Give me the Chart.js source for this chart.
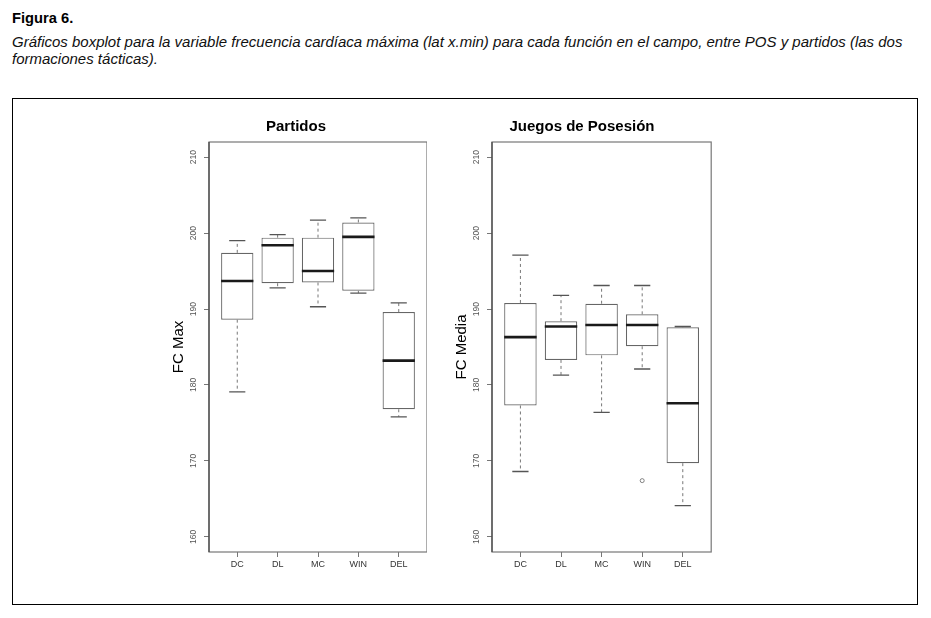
<!DOCTYPE html>
<html>
<head>
<meta charset="utf-8">
<script src="https://cdn.jsdelivr.net/npm/chart.js@4.4.0/dist/chart.umd.min.js"></script>
<style>
  body { margin: 0; background: #fff; font-family: "Liberation Sans", Arial, sans-serif; }
  #head { position: absolute; left: 12px; top: 10px; width: 915px; }
  #head b { font-size: 14.7px; display: block; line-height: 17px; color: #000; }
  #head i { font-size: 15px; display: block; line-height: 17px; margin-top: 6px; color: #111; }
  #frame { position: absolute; left: 12px; top: 98px; width: 904px; height: 505px; border: 1px solid #000; }
  .box { position: absolute; top: 118px; height: 464px; width: 262px; }
</style>
</head>
<body>
<div id="head">
  <b>Figura 6.</b>
  <i>Gráficos boxplot para la variable frecuencia cardíaca máxima (lat x.min) para cada función en el campo, entre POS y partidos (las dos formaciones tácticas).</i>
</div>
<div id="frame"></div>
<div class="box" style="left:165px"><canvas id="chartA"></canvas></div>
<div class="box" style="left:448px;width:268px"><canvas id="chartB"></canvas></div>
<script>
const categories = ["DC", "DL", "MC", "WIN", "DEL"];
const yTicks = [160, 170, 180, 190, 200, 210];

// Partidos
const partMin = [179.1, 192.8, 190.3, 192.1, 175.8];
const partQ1 = [188.6, 193.4, 193.5, 192.4, 176.8];
const partMed = [193.7, 198.4, 195.0, 199.5, 183.2];
const partQ3 = [197.4, 199.4, 199.4, 201.4, 189.6];
const partMax = [199.0, 199.8, 201.7, 202.0, 190.8];
const partOut = [];

// Juegos de Posesión
const posMin = [168.6, 181.3, 176.4, 182.1, 164.1];
const posQ1 = [177.3, 183.3, 183.9, 185.1, 169.7];
const posMed = [186.3, 187.7, 187.9, 187.9, 177.6];
const posQ3 = [190.8, 188.4, 190.7, 189.3, 187.6];
const posMax = [197.1, 191.8, 193.1, 193.1, 187.7];
const posOut = [{ cat: 3, value: 167.4 }];

const FONT = "'Liberation Sans', Arial, sans-serif";

// whiskers, caps, medians and plot frame
const boxplotExtras = {
  id: "boxplotExtras",
  afterDatasetsDraw(chart, args, opts) {
    const { ctx, chartArea } = chart;
    const xs = chart.scales.x;
    const ys = chart.scales.y;
    ctx.save();
    for (let i = 0; i < categories.length; i++) {
      const x = xs.getPixelForValue(i + 1);
      const capL = xs.getPixelForValue(i + 1 - 0.2);
      const capR = xs.getPixelForValue(i + 1 + 0.2);
      // dashed whiskers
      ctx.strokeStyle = "#777";
      ctx.lineWidth = 1;
      ctx.setLineDash([3, 3]);
      ctx.beginPath();
      ctx.moveTo(x, ys.getPixelForValue(opts.q3[i]));
      ctx.lineTo(x, ys.getPixelForValue(opts.max[i]));
      ctx.moveTo(x, ys.getPixelForValue(opts.q1[i]));
      ctx.lineTo(x, ys.getPixelForValue(opts.min[i]));
      ctx.stroke();
      ctx.setLineDash([]);
      // caps
      ctx.strokeStyle = "#555";
      ctx.lineWidth = 1.3;
      ctx.beginPath();
      ctx.moveTo(capL, ys.getPixelForValue(opts.max[i]));
      ctx.lineTo(capR, ys.getPixelForValue(opts.max[i]));
      ctx.moveTo(capL, ys.getPixelForValue(opts.min[i]));
      ctx.lineTo(capR, ys.getPixelForValue(opts.min[i]));
      ctx.stroke();
      // median
      ctx.strokeStyle = "#1a1a1a";
      ctx.lineWidth = 2.6;
      ctx.beginPath();
      ctx.moveTo(xs.getPixelForValue(i + 1 - 0.4), ys.getPixelForValue(opts.med[i]));
      ctx.lineTo(xs.getPixelForValue(i + 1 + 0.4), ys.getPixelForValue(opts.med[i]));
      ctx.stroke();
    }
    // plot frame
    ctx.strokeStyle = "#777";
    ctx.lineWidth = 1.2;
    ctx.strokeRect(chartArea.left, chartArea.top, chartArea.right - chartArea.left, chartArea.bottom - chartArea.top);
    ctx.strokeStyle = "#444";
    ctx.beginPath();
    ctx.moveTo(chartArea.left, chartArea.top);
    ctx.lineTo(chartArea.left, chartArea.bottom);
    ctx.stroke();
    ctx.restore();
  }
};

function makeBoxplot(id, title, yTitle, min, q1, med, q3, max, out) {
  const boxes = [];
  for (let i = 0; i < categories.length; i++) {
    boxes.push({ x: i + 1, y: [q1[i], q3[i]] });
  }
  const outliers = out.map(o => ({ x: o.cat + 1, y: o.value }));

  const config = {
    type: "bar",
    data: {
      datasets: [
        {
          type: "bar",
          data: boxes,
          backgroundColor: "#ffffff",
          borderColor: "#666",
          borderWidth: 1.2,
          borderSkipped: false,
          barPercentage: 0.8,
          categoryPercentage: 1.0,
        },
        {
          type: "scatter",
          data: outliers,
          pointStyle: "circle",
          pointRadius: 2,
          backgroundColor: "#fff",
          borderColor: "#666",
          borderWidth: 0.8,
        },
      ],
    },
    options: {
      responsive: true,
      maintainAspectRatio: false,
      animation: false,
      layout: { padding: 0 },
      plugins: {
        legend: { display: false },
        tooltip: { enabled: false },
        title: {
          display: true,
          text: title,
          color: "#000",
          font: { family: FONT, size: 15, weight: "bold", lineHeight: 1.2 },
          padding: { top: 0, bottom: 6 },
        },
        boxplotExtras: { min, q1, med, q3, max },
      },
      scales: {
        x: {
          type: "linear",
          min: 0.3,
          max: 5.7,
          offset: false,
          afterBuildTicks: (scale) => {
            scale.ticks = categories.map((c, i) => ({ value: i + 1 }));
          },
          afterFit: (scale) => { scale.height = 30; },
          ticks: {
            callback: (v) => categories[v - 1],
            color: "#333",
            font: { family: FONT, size: 9 },
            padding: 2,
            maxRotation: 0,
            autoSkip: false,
          },
          grid: { offset: false, drawOnChartArea: false, drawTicks: true, tickLength: 5, color: "#777" },
          border: { display: false },
        },
        y: {
          min: 158,
          max: 212,
          afterBuildTicks: (scale) => {
            scale.ticks = yTicks.map(v => ({ value: v }));
          },
          afterFit: (scale) => { scale.width = 44; },
          ticks: {
            color: "#555",
            font: { family: FONT, size: 8.5 },
            minRotation: 90,
            maxRotation: 90,
            crossAlign: "center",
            padding: 3,
          },
          grid: { drawOnChartArea: false, drawTicks: true, tickLength: 5, color: "#777" },
          border: { display: false },
          title: {
            display: true,
            text: yTitle,
            color: "#000",
            font: { family: FONT, size: 15, lineHeight: 1.2 },
            padding: { top: 5, bottom: 0 },
          },
        },
      },
    },
    plugins: [boxplotExtras],
  };
  return new Chart(document.getElementById(id), config);
}

makeBoxplot("chartA", "Partidos", "FC Max", partMin, partQ1, partMed, partQ3, partMax, partOut);
makeBoxplot("chartB", "Juegos de Posesión", "FC Media", posMin, posQ1, posMed, posQ3, posMax, posOut);
</script>
</body>
</html>
